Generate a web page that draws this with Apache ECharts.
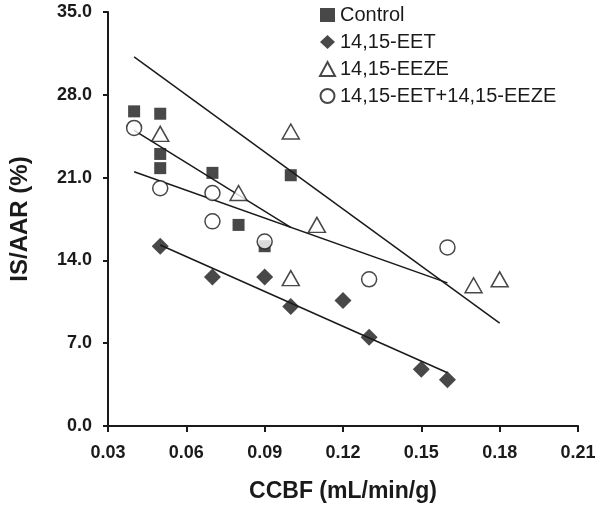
<!DOCTYPE html>
<html>
<head>
<meta charset="utf-8">
<script src="https://cdn.jsdelivr.net/npm/echarts@6/dist/echarts.min.js"></script>
<style>
  html, body { margin: 0; padding: 0; background: #fff; }
  #chart { width: 600px; height: 511px; }
</style>
</head>
<body>
<div id="chart"></div>
<script>
// 各组数据 [CCBF, IS/AAR]
var controlData = [[0.04, 26.6], [0.05, 26.4], [0.05, 23.0], [0.05, 21.8], [0.07, 21.4], [0.08, 17.0], [0.09, 15.2], [0.10, 21.2]];
var eetData = [[0.05, 15.2], [0.07, 12.6], [0.09, 12.6], [0.10, 10.1], [0.12, 10.6], [0.13, 7.5], [0.15, 4.8], [0.16, 3.9]];
var eezeData = [[0.05, 24.7], [0.08, 19.7], [0.10, 24.9], [0.10, 12.5], [0.11, 17.0], [0.17, 11.9], [0.18, 12.4]];
var comboData = [[0.04, 25.2], [0.05, 20.1], [0.07, 19.7], [0.07, 17.3], [0.09, 15.6], [0.13, 12.4], [0.16, 15.1]];

// 回归线（起点、终点）
var fitLines = [
    [[0.04, 31.2], [0.18, 8.7]],
    [[0.04, 25.0], [0.10, 16.8]],
    [[0.04, 21.5], [0.16, 12.1]],
    [[0.05, 15.3], [0.16, 4.5]]
];

var seriesNames = ['Control', '14,15-EET', '14,15-EEZE', '14,15-EET+14,15-EEZE'];
var xTicks = { min: 0.03, max: 0.21, step: 0.03 };
var yTicks = { min: 0, max: 35, step: 7 };

var chart = echarts.init(document.getElementById('chart'));

var font = 'Liberation Sans, Arial, sans-serif';

var series = [
    {
        name: seriesNames[0], type: 'scatter', data: controlData,
        symbol: 'rect', symbolSize: 12,
        itemStyle: { color: '#1a1a1a' }
    },
    {
        name: seriesNames[1], type: 'scatter', data: eetData,
        symbol: 'diamond', symbolSize: 17,
        itemStyle: { color: '#1a1a1a' }
    },
    {
        name: seriesNames[2], type: 'scatter', data: eezeData,
        symbol: 'triangle', symbolSize: [17, 15],
        itemStyle: { color: '#fff', borderColor: '#1a1a1a', borderWidth: 1.5 }
    },
    {
        name: seriesNames[3], type: 'scatter', data: comboData,
        symbol: 'circle', symbolSize: 15,
        itemStyle: { color: '#fff', borderColor: '#1a1a1a', borderWidth: 1.5 }
    }
];

fitLines.forEach(function (line, i) {
    series.push({
        name: 'fit' + i, type: 'line', data: line,
        showSymbol: false, silent: true, z: 1,
        lineStyle: { color: '#1a1a1a', width: 1.5 }
    });
});

var option = {
    backgroundColor: '#fff',
    animation: false,
    grid: { left: 105, right: 22, top: 12, bottom: 85 },
    legend: {
        data: seriesNames.map(function (n) { return { name: n }; }),
        orient: 'vertical',
        left: 314, top: 0,
        itemWidth: 15, itemHeight: 14, itemGap: 7,
        textStyle: { fontFamily: font, fontSize: 20, color: '#1a1a1a' }
    },
    xAxis: {
        type: 'value',
        min: xTicks.min, max: xTicks.max, interval: xTicks.step,
        name: 'CCBF (mL/min/g)', nameLocation: 'middle', nameGap: 54,
        nameTextStyle: { fontFamily: font, fontSize: 23, fontWeight: 'bold', color: '#1a1a1a' },
        axisLine: { lineStyle: { color: '#1a1a1a', width: 2 } },
        axisTick: { show: true, length: 6, lineStyle: { color: '#1a1a1a', width: 2 } },
        axisLabel: {
            margin: 18, fontFamily: font, fontSize: 18, fontWeight: 'bold', color: '#1a1a1a',
            formatter: function (v) { return v.toFixed(2); }
        },
        splitLine: { show: false }
    },
    yAxis: {
        type: 'value',
        min: yTicks.min, max: yTicks.max, interval: yTicks.step,
        name: 'IS/AAR (%)', nameLocation: 'middle', nameGap: 76,
        nameTextStyle: { fontFamily: font, fontSize: 24, fontWeight: 'bold', color: '#1a1a1a' },
        axisLine: { lineStyle: { color: '#1a1a1a', width: 2 } },
        axisTick: { show: true, length: 5, lineStyle: { color: '#1a1a1a', width: 2 } },
        axisLabel: {
            margin: 16, fontFamily: font, fontSize: 18, fontWeight: 'bold', color: '#1a1a1a',
            formatter: function (v) { return v.toFixed(1); }
        },
        splitLine: { show: false }
    },
    series: series
};

chart.setOption(option);
</script>
</body>
</html>
